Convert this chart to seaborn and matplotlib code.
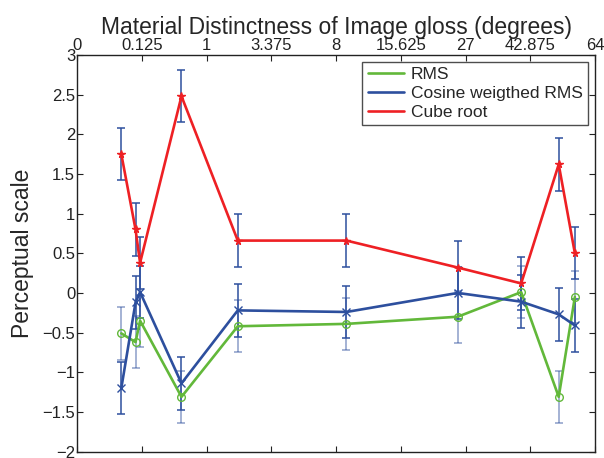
import numpy as np
import pandas as pd
import seaborn as sns
from matplotlib import pyplot as plt

# positions on the cube-root axis (tick labels are the cubes)
xpos = [0.34, 0.45, 0.485, 0.805, 1.24, 2.08, 2.94, 3.43, 3.72, 3.845]
rms = [-0.51, -0.62, -0.35, -1.31, -0.42, -0.39, -0.30, 0.01, -1.31, -0.05]
cosine = [-1.20, -0.12, 0.01, -1.14, -0.22, -0.24, 0.00, -0.11, -0.27, -0.41]
cube = [1.75, 0.80, 0.38, 2.48, 0.66, 0.66, 0.32, 0.12, 1.62, 0.50]
err = [0.33] * 10

xtick_pos = [0, 0.5, 1, 1.5, 2, 2.5, 3, 3.5, 4]
xtick_labels = ['0', '0.125', '1', '3.375', '8', '15.625', '27', '42.875', '64']

green = '#62b83a'
blue = '#2d4f9e'
red = '#ee2024'

sns.set_style('white')
plt.rcParams['font.family'] = ['Liberation Sans', 'DejaVu Sans']

df = pd.DataFrame({'x': xpos, 'RMS': rms, 'Cosine weigthed RMS': cosine, 'Cube root': cube})

fig = plt.figure(figsize=(6.04, 4.58), dpi=100)
ax = fig.add_axes([0.128, 0.014, 0.857, 0.866])

series = [('RMS', green, 'o', 0.55), ('Cosine weigthed RMS', blue, 'x', 1.0), ('Cube root', red, '*', 1.0)]
for name, col, mk, a in series:
    ax.errorbar(df['x'], df[name], yerr=err, fmt='none', ecolor=blue, alpha=a,
                elinewidth=1.1, capsize=2.6, capthick=1.1, zorder=1)
for name, col, mk, a in series:
    sns.lineplot(data=df, x='x', y=name, ax=ax, color=col, linewidth=1.9, label=name,
                 marker=mk, markersize=5.5, markerfacecolor='none' if mk == 'o' else col,
                 markeredgecolor=col, markeredgewidth=1.0, zorder=3, sort=False)

ax.set_xlim(0, 4)
ax.set_ylim(-2, 3)
ax.set_xticks(xtick_pos)
ax.set_xticklabels(xtick_labels)
ax.set_yticks(np.arange(-2, 3.01, 0.5))
ax.set_yticklabels([('%g' % v).replace('-', '\u2212') for v in np.arange(-2, 3.01, 0.5)])
ax.tick_params(direction='in', top=True, bottom=True, left=True, right=True,
               labeltop=True, labelbottom=False, labelsize=12, length=4, pad=1.5, colors='#222222')
ax.xaxis.set_label_position('top')
ax.set_xlabel('Material Distinctness of Image gloss (degrees)', fontsize=16.5, labelpad=3)
ax.set_ylabel('Perceptual scale', fontsize=16.5, labelpad=6)
for s in ax.spines.values():
    s.set_color('#222222')
    s.set_linewidth(1.0)

leg = ax.legend(loc='upper right', fontsize=12.5, frameon=True, fancybox=False,
                handlelength=2.1, borderaxespad=0.4, labelspacing=0.22, borderpad=0.3,
                handletextpad=0.4)
leg.get_frame().set_edgecolor('#222222')
leg.get_frame().set_linewidth(1.0)
for h in leg.legend_handles:
    h.set_marker('')

fig.savefig('out.png', dpi=100)
